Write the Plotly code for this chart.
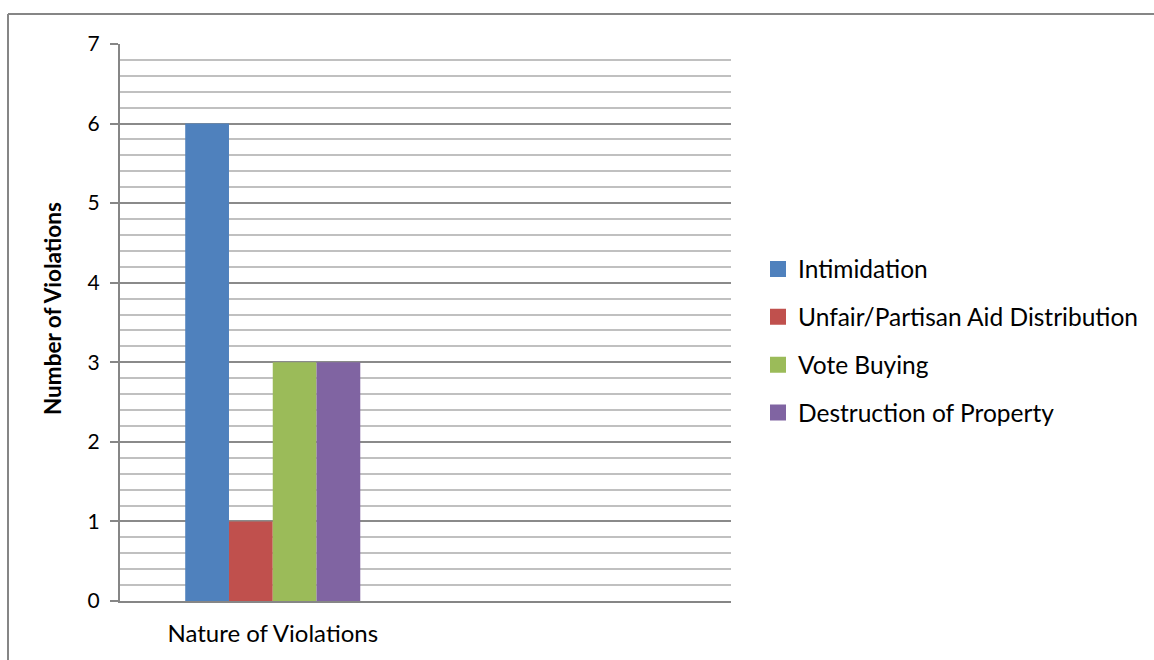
import plotly.graph_objects as go

categories = ["Nature of Violations", " "]
series_names = ["Intimidation", "Unfair/Partisan Aid Distribution", "Vote Buying", "Destruction of Property"]
series_values = [[6], [1], [3], [3]]
colors = ["#4F81BD", "#C0504D", "#9BBB59", "#8064A2"]
y_tick_values = [0, 1, 2, 3, 4, 5, 6, 7]
y_title = "Number of Violations"

FONT = "Lato"

fig = go.Figure()
for name, vals, col in zip(series_names, series_values, colors):
    fig.add_trace(go.Bar(
        x=categories[:len(vals)], y=vals, name=name, marker_color=col,
        marker_line_width=0, legendgroup=name, showlegend=False,
    ))
    # legend-only entry with a larger square swatch
    fig.add_trace(go.Scatter(
        x=[None], y=[None], mode="markers", name=name, legendgroup=name,
        marker=dict(symbol="square", size=16, color=col, line=dict(width=0)),
        showlegend=True, hoverinfo="skip",
    ))

W, H = 1154, 660
L, R, T, B = 120, 731, 44, 601

def px(x):
    return (x - L) / (R - L)

def py(y):
    return (B - y) / (B - T)

fig.update_layout(
    width=W, height=H,
    margin=dict(l=L, r=W - R, t=T, b=H - B, pad=0, autoexpand=False),
    paper_bgcolor="white", plot_bgcolor="white",
    barmode="group", bargap=0.427, bargroupgap=0,
    font=dict(family=FONT, size=20, color="#000000"),
    showlegend=True,
    legend=dict(xref="container", yref="container",
                x=758 / W, xanchor="left", y=1 - 341 / H, yanchor="middle",
                font=dict(family=FONT, size=24.5, color="#000000"),
                tracegroupgap=13, itemsizing="trace",
                bgcolor="rgba(0,0,0,0)"),
    xaxis=dict(type="category", categoryarray=categories, categoryorder="array",
               range=[-0.5, 1.5], showgrid=False, showline=True, automargin=False,
               linecolor="#868686", linewidth=2, ticks="", zeroline=False,
               tickfont=dict(family=FONT, size=24, color="#000000"), ticklabelstandoff=10),
    yaxis=dict(range=[0, 7], tickvals=y_tick_values, showgrid=True, automargin=False,
               gridcolor="#8A8A8A", gridwidth=1.5, zeroline=False,
               showline=True, linecolor="#868686", linewidth=2,
               ticks="outside", ticklen=8, tickcolor="#868686", tickwidth=2,
               tickfont=dict(family=FONT, size=21, color="#000000"), ticklabelstandoff=6,
               minor=dict(dtick=0.2, showgrid=True, gridcolor="#C0C0C0", gridwidth=1.5)),
    annotations=[
        dict(text="<b>" + y_title + "</b>", xref="paper", yref="paper",
             x=px(52), y=py(309), xanchor="center", yanchor="middle",
             textangle=-90, showarrow=False,
             font=dict(family=FONT, size=22.5, color="#000000")),
    ],
    shapes=[
        dict(type="line", xref="paper", yref="paper", x0=px(8), x1=px(1160), y0=py(14), y1=py(14),
             line=dict(color="#868686", width=2)),
        dict(type="line", xref="paper", yref="paper", x0=px(8), x1=px(8), y0=py(14), y1=py(665),
             line=dict(color="#868686", width=2)),
    ],
)

fig.write_html(
    "out.html",
    config={"displayModeBar": False},
    post_script="document.body.style.margin='0';document.body.style.overflow='hidden';",
)
